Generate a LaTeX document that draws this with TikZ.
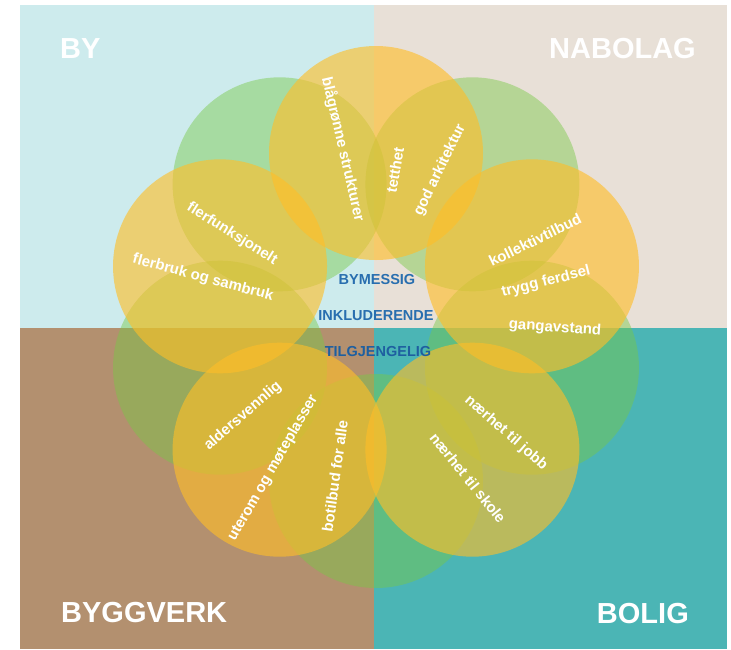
\documentclass[tikz,border=0pt]{standalone}
\usepackage{fontspec}
\setmainfont{Liberation Sans}
\definecolor{bycol}{RGB}{205,235,237}
\definecolor{nabcol}{RGB}{232,224,215}
\definecolor{byggcol}{RGB}{179,144,111}
\definecolor{boligcol}{RGB}{75,181,181}
\definecolor{orcol}{RGB}{255,190,40}
\definecolor{grcol}{RGB}{120,200,70}
\definecolor{bluecol}{RGB}{40,110,175}
\definecolor{darkbluecol}{RGB}{30,95,160}
\begin{document}
\begin{tikzpicture}[x=1pt,y=-1pt,
  quadtitle/.style={text=white,font=\bfseries\fontsize{29}{29}\selectfont,inner sep=0pt},
  lab/.style={text=white,font=\bfseries\fontsize{15}{15}\selectfont,inner sep=0pt},
  centre/.style={text=bluecol,font=\bfseries\fontsize{14.5}{14.5}\selectfont,inner sep=0pt},
  orfill/.style={fill=orcol,fill opacity=0.62},
  grfill/.style={fill=grcol,fill opacity=0.45}]
\useasboundingbox (0,0) rectangle (731,649);
\fill[white] (0,0) rectangle (731,649);
\fill[bycol] (20,5) rectangle (374,328);
\fill[nabcol] (374,5) rectangle (727,328);
\fill[byggcol] (20,328) rectangle (374,649);
\fill[boligcol] (374,328) rectangle (727,649);
% ring of circles: green first, orange on top
\foreach \i in {1,3,5,7,9}{
  \pgfmathsetmacro{\a}{90-36*\i}
  \fill[grfill] ({376+164*cos(\a)},{317-164*sin(\a)}) circle (107pt);
}
\foreach \i in {0,2,4,6,8}{
  \pgfmathsetmacro{\a}{90-36*\i}
  \fill[orfill] ({376+164*cos(\a)},{317-164*sin(\a)}) circle (107pt);
}
% quadrant titles
\node[quadtitle,anchor=base west] (tby) at (60,58) {BY};
\node[quadtitle,anchor=base east] (tnab) at (696,58) {NABOLAG};
\node[quadtitle,anchor=base west] (tbygg) at (61,622) {BYGGVERK};
\node[quadtitle,anchor=base east] (tbol) at (689,623) {BOLIG};
% labels
\node[lab,rotate=-77] (l1) at (343,149) {blågrønne strukturer};
\node[lab,rotate=80] (l2) at (395,170) {tetthet};
\node[lab,rotate=64] (l3) at (440,170) {god arkitektur};
\node[lab,rotate=26] (l4) at (535,240) {kollektivtilbud};
\node[lab,rotate=14] (l5) at (546,282) {trygg ferdsel};
\node[lab,rotate=-4] (l6) at (555,328) {gangavstand};
\node[lab,rotate=-41] (l7) at (506,433) {nærhet til jobb};
\node[lab,rotate=-51] (l8) at (468,478) {nærhet til skole};
\node[lab,rotate=82] (l9) at (335,476) {botilbud for alle};
\node[lab,rotate=60] (l10) at (273,468) {uterom og møteplasser};
\node[lab,rotate=41] (l11) at (243,416) {aldersvennlig};
\node[lab,rotate=-15] (l12) at (203,278) {flerbruk og sambruk};
\node[lab,rotate=-32] (l13) at (232,234) {flerfunksjonelt};
% centre words
\node[centre] (c1) at (377,280) {BYMESSIG};
\node[centre] (c2) at (376,316) {INKLUDERENDE};
\node[centre,text=darkbluecol] (c3) at (378,351) {TILGJENGELIG};
\end{tikzpicture}
\end{document}
